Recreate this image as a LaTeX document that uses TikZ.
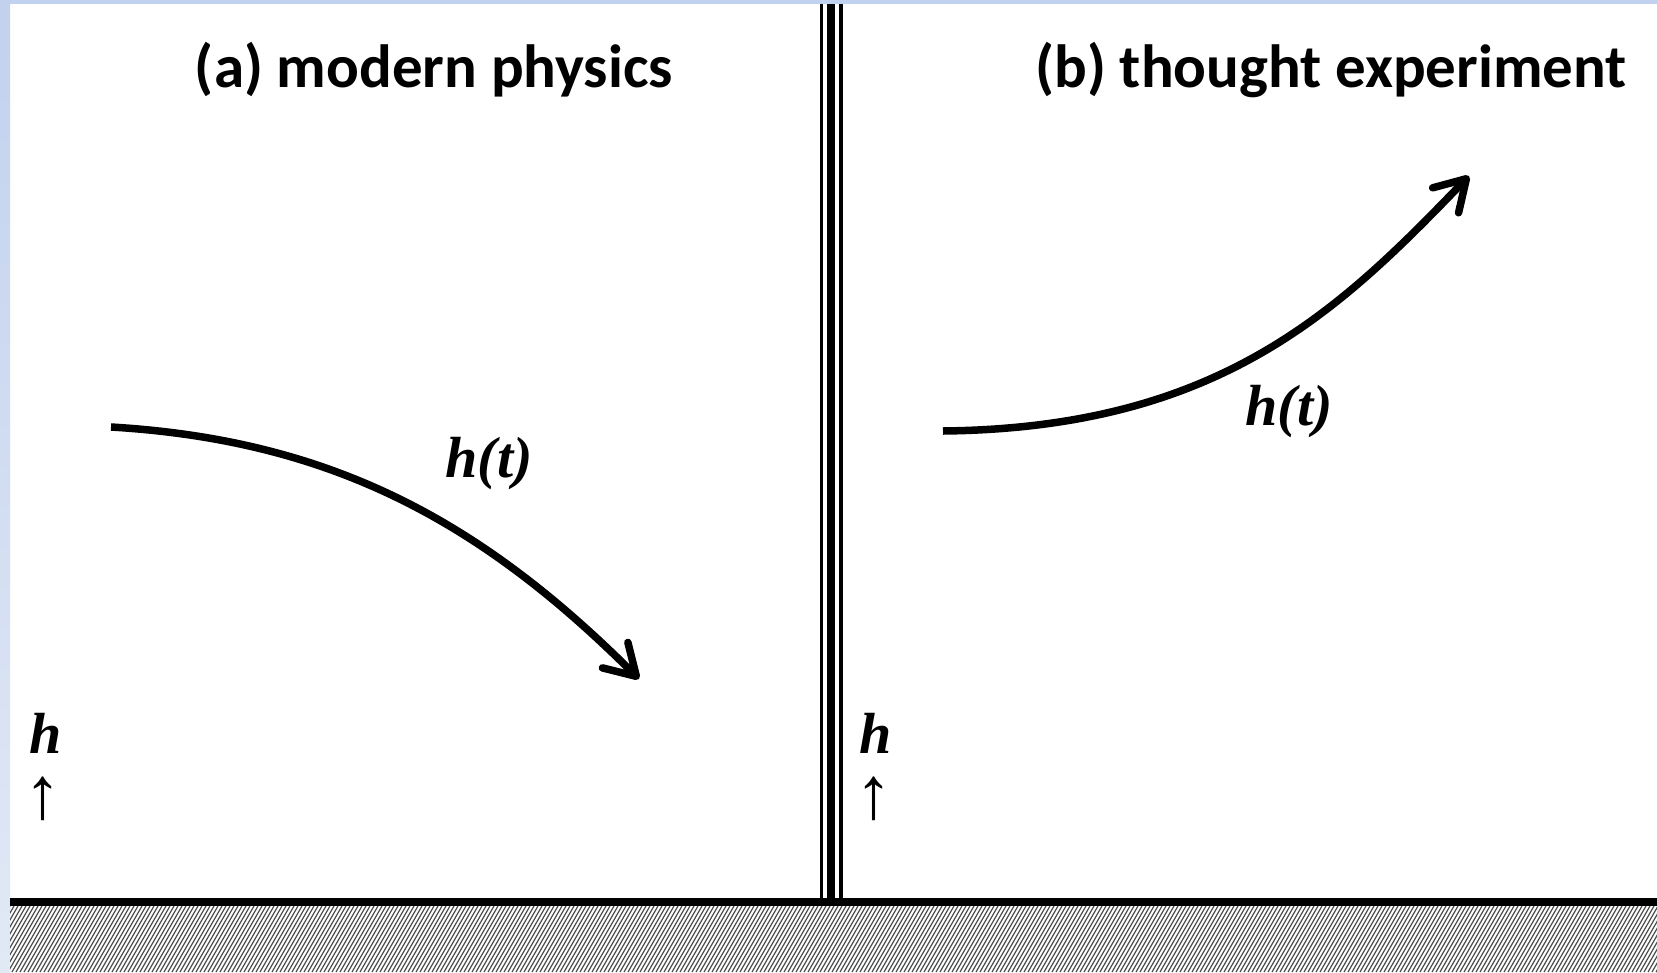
\documentclass[tikz,border=0pt]{standalone}
\usepackage{fontspec}
\usetikzlibrary{arrows.meta}
\newfontfamily\titlefont{Carlito}
\newfontfamily\serffont{Liberation Serif}
\definecolor{framebluetop}{HTML}{C2D1EE}
\definecolor{framebluebot}{HTML}{E1E9F5}

\begin{document}
\begin{tikzpicture}[x=1pt,y=-1pt,
  curve/.style={line width=7.5pt,-{Straight Barb[length=30pt,width=36pt,line cap=round,line join=round]}},
  paneltitle/.style={anchor=base,inner sep=0pt,font=\titlefont\bfseries\fontsize{61}{61}\selectfont},
  fnlabel/.style={anchor=base,inner sep=0pt,font=\serffont\bfseries\itshape\fontsize{58}{58}\selectfont},
  uparrow/.style={inner sep=0pt,font=\serffont\fontsize{74}{74}\selectfont}]
\useasboundingbox (0,0) rectangle (1657,972);
\fill[white] (0,0) rectangle (1657,972);
% frame
\shade[top color=framebluetop,bottom color=framebluebot] (0,0) rectangle (10,972);
\fill[framebluetop] (0,0) rectangle (1657,4);
% ground
\fill (10,898) rectangle (1657,906);
\begin{scope}
\clip (10,906) rectangle (1657,972);
\foreach \x in {-40,-36,...,1660}
  \draw[line width=1.2pt,black!70] (\x,972) -- (\x+38,906);
\end{scope}
% wall between the panels
\draw[line width=3pt] (821.5,4) -- (821.5,898);
\draw[line width=8pt] (831,4) -- (831,898);
\draw[line width=3.5pt] (841,4) -- (841,898);
% titles
\node[paneltitle] (titleA) at (434,87) {(a) modern physics};
\node[paneltitle] (titleB) at (1331,87) {(b) thought experiment};
% trajectories
\coordinate (aStart) at (111,427);
\coordinate (aTip) at (639,679);
\draw[curve] (aStart) .. controls (330,440) and (480,520) .. (aTip);
\node[fnlabel] (htA) at (489,477) {h(t)};
\coordinate (bStart) at (943,431);
\coordinate (bTip) at (1469,176);
\draw[curve] (bStart) .. controls (1220,428) and (1340,310) .. (bTip);
\node[fnlabel] (htB) at (1289,425) {h(t)};
% height axes
\node[fnlabel] (hA) at (45.5,753) {h};
\node[uparrow] (upA) at (42.5,799) {↑};
\node[fnlabel] (hB) at (876,753) {h};
\node[uparrow] (upB) at (873.5,799) {↑};
\end{tikzpicture}
\end{document}
